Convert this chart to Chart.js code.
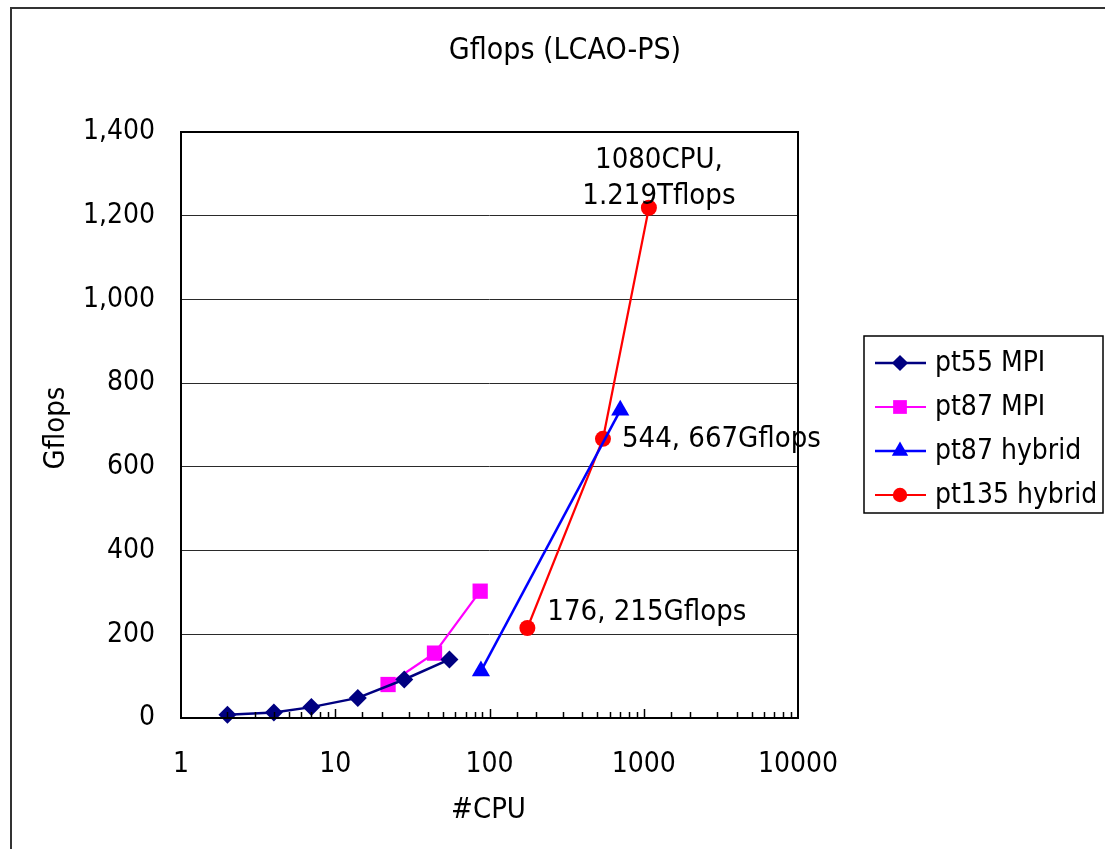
<!DOCTYPE html>
<html>
<head>
<meta charset="utf-8">
<script src="https://cdn.jsdelivr.net/npm/chart.js@4"></script>
<style>
html,body{margin:0;padding:0;background:#fff;}
canvas{display:block;}
</style>
</head>
<body>
<canvas id="c" width="1105" height="849" style="width:1105px;height:849px"></canvas>
<script>
// ---- data ----
const chartTitle = 'Gflops (LCAO-PS)';
const xTitle = '#CPU';
const yTitle = 'Gflops';
const seriesNames = ['pt55 MPI', 'pt87 MPI', 'pt87 hybrid', 'pt135 hybrid'];
const cpuPt55 = [2, 4, 7, 14, 28, 55];
const gfPt55 = [8, 13, 26, 48, 92, 140];
const cpuPt87mpi = [22, 44, 87];
const gfPt87mpi = [80, 155, 303];
const cpuPt87hyb = [88, 704];
const gfPt87hyb = [112, 735];
const cpuPt135 = [176, 544, 1080];
const gfPt135 = [215, 667, 1219];
const labelsPt135 = ['176, 215Gflops', '544, 667Gflops', '1080CPU,\n1.219Tflops'];
const yTicks = [0, 200, 400, 600, 800, 1000, 1200, 1400];
const xTickLabels = [1, 10, 100, 1000, 10000];

const FONT = "'DejaVu Sans Condensed', 'DejaVu Sans', sans-serif";

function pts(xs, ys) { return xs.map((x, i) => ({ x: x, y: ys[i] })); }

const styles = [
  { color: '#000080', pointStyle: 'rectRot', radius: 9, lw: 2.5 },
  { color: '#FF00FF', pointStyle: 'rect', radius: 10.8, lw: 2.2 },
  { color: '#0000FF', pointStyle: 'triangle', radius: 10.5, lw: 2.5 },
  { color: '#FF0000', pointStyle: 'circle', radius: 8, lw: 2.2 }
];
const seriesData = [pts(cpuPt55, gfPt55), pts(cpuPt87mpi, gfPt87mpi), pts(cpuPt87hyb, gfPt87hyb), pts(cpuPt135, gfPt135)];

const datasets = seriesNames.map((name, i) => ({
  label: name,
  data: seriesData[i],
  borderColor: styles[i].color,
  backgroundColor: styles[i].color,
  borderWidth: styles[i].lw,
  pointStyle: styles[i].pointStyle,
  pointRadius: styles[i].radius,
  pointHoverRadius: styles[i].radius,
  pointBorderWidth: 0,
  pointBackgroundColor: styles[i].color,
  showLine: true,
  tension: 0,
  clip: false
}));

// label placement offsets (style only)
const labelOffsets = [
  { dx: 20, dy: -16, align: 'left' },
  { dx: 19, dy: 1, align: 'left' },
  { dx: 10, dy: -47, align: 'center' }
];

const decorPlugin = {
  id: 'decor',
  beforeDraw(chart) {
    const ctx = chart.ctx;
    ctx.save();
    ctx.fillStyle = '#fff';
    ctx.fillRect(0, 0, chart.width, chart.height);
    ctx.strokeStyle = '#333';
    ctx.lineWidth = 2;
    ctx.strokeRect(11, 8, 1300, 1100);
    ctx.restore();
  },
  afterDatasetsDraw(chart) {
    const ctx = chart.ctx;
    const a = chart.chartArea;
    const xs = chart.scales.x;
    ctx.save();
    // plot frame
    ctx.strokeStyle = '#000';
    ctx.lineWidth = 2;
    ctx.strokeRect(a.left, a.top, a.right - a.left, a.bottom - a.top);
    // inward x ticks
    ctx.lineWidth = 1.5;
    xs.ticks.forEach(t => {
      const v = t.value;
      if (v <= xs.min || v >= xs.max) return;
      const px = Math.round(xs.getPixelForValue(v)) + 0.5;
      const major = Math.abs(Math.log10(v) - Math.round(Math.log10(v))) < 1e-9;
      const len = major ? 9 : 6;
      ctx.beginPath();
      ctx.moveTo(px, a.bottom);
      ctx.lineTo(px, a.bottom - len);
      ctx.stroke();
    });
    // titles
    ctx.fillStyle = '#000';
    ctx.textBaseline = 'middle';
    ctx.textAlign = 'center';
    ctx.font = '30px ' + FONT;
    ctx.fillText(chartTitle, 565, 51);
    ctx.font = '29px ' + FONT;
    ctx.fillText(xTitle, (a.left + a.right) / 2 - 1, 810);
    ctx.save();
    ctx.translate(56, 428);
    ctx.rotate(-Math.PI / 2);
    ctx.fillText(yTitle, 0, 0);
    ctx.restore();
    // data labels for pt135
    const meta = chart.getDatasetMeta(3);
    ctx.font = '29px ' + FONT;
    meta.data.forEach((el, i) => {
      const o = labelOffsets[i];
      const lines = labelsPt135[i].split('\n');
      ctx.textAlign = o.align;
      lines.forEach((ln, k) => {
        ctx.fillText(ln, el.x + o.dx, el.y + o.dy + k * 36);
      });
    });
    // legend
    const lx = 864, ly = 336, lw = 239, lh = 177;
    ctx.fillStyle = '#fff';
    ctx.fillRect(lx, ly, lw, lh);
    ctx.strokeStyle = '#000';
    ctx.lineWidth = 1.5;
    ctx.strokeRect(lx, ly, lw, lh);
    ctx.font = '28px ' + FONT;
    ctx.textAlign = 'left';
    chart.data.datasets.forEach((ds, i) => {
      const cy = 363 + i * 44;
      ctx.strokeStyle = ds.borderColor;
      ctx.lineWidth = ds.borderWidth;
      ctx.beginPath();
      ctx.moveTo(875, cy);
      ctx.lineTo(926, cy);
      ctx.stroke();
      ctx.save();
      ctx.fillStyle = ds.backgroundColor;
      ctx.strokeStyle = ds.borderColor;
      Chart.helpers.drawPoint(ctx, { pointStyle: ds.pointStyle, radius: ds.pointRadius * 0.9, borderWidth: 0 }, 900, cy);
      ctx.restore();
      ctx.fillStyle = '#000';
      ctx.fillText(ds.label, 935, cy + 1);
    });
    ctx.restore();
  }
};

new Chart(document.getElementById('c'), {
  type: 'line',
  data: { datasets: datasets },
  options: {
    responsive: false,
    animation: false,
    devicePixelRatio: 1,
    layout: { padding: { left: 61, right: 307, top: 132, bottom: 31 } },
    plugins: { legend: { display: false }, title: { display: false }, tooltip: { enabled: false } },
    scales: {
      x: {
        type: 'logarithmic',
        min: 1,
        max: 10000,
        afterFit(s) { s.height = 100; },
        grid: { display: false, drawTicks: false },
        border: { display: false },
        ticks: {
          autoSkip: false,
          maxRotation: 0,
          padding: 30,
          color: '#000',
          font: { size: 28, family: FONT },
          callback(v) { return xTickLabels.includes(v) ? String(v) : ''; }
        }
      },
      y: {
        type: 'linear',
        min: 0,
        max: 1400,
        afterFit(s) { s.width = 120; },
        afterBuildTicks(s) { s.ticks = yTicks.map(v => ({ value: v })); },
        grid: { color: '#2a2a2a', lineWidth: 1, drawTicks: false },
        border: { display: false },
        ticks: {
          padding: 26,
          color: '#000',
          font: { size: 28, family: FONT },
          callback(v) { return Number(v).toLocaleString('en-US'); }
        }
      }
    }
  },
  plugins: [decorPlugin]
});
</script>
</body>
</html>
